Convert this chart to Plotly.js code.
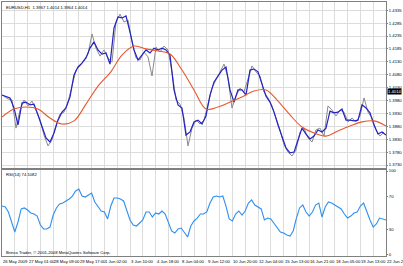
<!DOCTYPE html>
<html><head><meta charset="utf-8">
<script src="https://cdn.plot.ly/plotly-3.0.1.min.js"></script>
<style>html,body{margin:0;padding:0;background:#fff;overflow:hidden}#chart{width:403px;height:266px}</style>
</head><body><div id="chart"></div>
<script>
// EURUSD H1 close (grey line)
const closePrice = [
 1.3997,1.3986,1.3982,1.3873,1.3943,1.3982,1.3959,1.3978,1.3943,1.3904,
 1.3846,1.3804,1.3827,1.3885,1.3928,1.3935,1.3974,1.4040,1.4098,1.4114,
 1.4137,1.4160,1.4238,1.4183,1.4152,1.4176,1.4145,1.4129,1.4284,1.4315,
 1.4284,1.4292,1.4207,1.4145,1.4137,1.4168,1.4149,1.4075,1.4187,1.4168,
 1.4191,1.4176,1.4091,1.3982,1.3966,1.3912,1.3804,1.3873,1.3904,1.3889,
 1.3904,1.3963,1.4028,1.4060,1.4091,1.4121,1.4067,1.3951,1.3997,1.4028,
 1.4013,1.4067,1.4114,1.4091,1.4075,1.4013,1.3990,1.3959,1.3912,1.3866,
 1.3808,1.3780,1.3765,1.3788,1.3858,1.3873,1.3835,1.3819,1.3866,1.3873,
 1.3842,1.3959,1.3943,1.3920,1.3943,1.3935,1.3897,1.3912,1.3897,1.3920,
 1.3990,1.3935,1.3912,1.3866,1.3842,1.3858];
// fast moving average (blue line)
const fastMA = [
 1.4001,1.3994,1.3990,1.3951,1.3885,1.3970,1.3974,1.3963,1.3966,1.3924,
 1.3881,1.3835,1.3819,1.3854,1.3904,1.3935,1.3951,1.3994,1.4079,1.4110,
 1.4125,1.4145,1.4183,1.4207,1.4176,1.4160,1.4164,1.4121,1.4261,1.4304,
 1.4300,1.4308,1.4245,1.4176,1.4137,1.4156,1.4176,1.4164,1.4183,1.4176,
 1.4183,1.4176,1.4156,1.4021,1.3963,1.3951,1.3846,1.3858,1.3897,1.3904,
 1.3889,1.3920,1.4001,1.4052,1.4075,1.4098,1.4110,1.4021,1.3974,1.4021,
 1.4021,1.4001,1.4098,1.4102,1.4091,1.4044,1.3997,1.3974,1.3935,1.3885,
 1.3839,1.3796,1.3777,1.3780,1.3827,1.3873,1.3850,1.3831,1.3842,1.3866,
 1.3858,1.3873,1.3939,1.3932,1.3935,1.3947,1.3904,1.3904,1.3901,1.3904,
 1.3963,1.3951,1.3932,1.3885,1.3850,1.3858,1.3846];
// slow moving average (red line)
const slowMA = [
 1.3916,1.3947,1.3955,1.3947,1.3912,1.3889,1.3901,1.3966,1.4036,1.4087,
 1.4156,1.4191,1.4180,1.4172,1.4160,1.4098,1.4021,1.3947,1.3955,1.3974,
 1.3994,1.4017,1.4021,1.3978,1.3924,1.3877,1.3854,1.3842,1.3862,1.3881,
 1.3897,1.3901,1.3881];
// RSI(14)
const rsi = [
 58.3,57.1,51.2,39.3,27.4,39.3,54.8,56.0,53.6,50.0,
 48.8,46.4,35.7,31.0,31.0,33.3,47.6,56.0,60.7,61.9,
 64.3,66.7,70.2,76.2,78.6,70.2,69.0,71.4,73.8,63.1,
 57.1,52.4,51.2,42.9,58.3,67.9,67.9,66.7,64.3,53.6,
 41.7,35.7,34.5,38.1,41.7,51.2,51.2,45.2,50.0,48.8,
 52.4,48.8,39.3,28.6,26.2,31.0,32.1,26.2,21.4,34.5,
 40.5,44.0,48.8,48.8,51.2,61.9,69.0,70.2,69.0,70.2,
 58.3,42.9,40.5,48.8,52.4,47.6,52.4,61.9,65.5,59.5,
 57.1,54.8,41.7,44.0,42.9,38.1,32.1,27.4,26.2,23.8,
 22.6,28.6,44.0,56.0,59.5,51.2,46.4,51.2,59.5,61.9,
 45.2,57.1,63.1,61.9,59.5,57.1,54.8,48.8,44.0,46.4,
 50.0,51.2,58.3,61.9,51.2,41.7,33.3,36.9,44.0,42.9,
 41.7];
const priceTickValues = [1.3730,1.3780,1.3830,1.3880,1.3930,1.3980,1.4030,1.4080,1.4130,1.4180,1.4230,1.4280,1.4330];
const priceTickLabels = ["1.3730","1.3780","1.3830","1.3880","1.3930","1.3980","1.4030","1.4080","1.4130","1.4185","1.4235","1.4285","1.4335"];
const rsiTickValues = [0,30,70,100];
const rsiTickLabels = ["0","30","70","100"];
const timeLabels = ["26 May 2009","27 May 01:00","28 May 09:00","29 May 17:00","1 Jun 02:00","3 Jun 10:00","4 Jun 18:00","8 Jun 04:00","9 Jun 12:00","10 Jun 20:00","12 Jun 04:00","15 Jun 13:00","16 Jun 21:00","18 Jun 05:00","19 Jun 13:00","22 Jun 22:00"];
const headerText = "EURUSD,H1  1.3967 1.4014 1.3964 1.4014";
const rsiHeader = "RSI(14) 74.1082";
const footerText = "Brinco Trader, © 2001-2008 MetaQuotes Software Corp.";
const lastPrice = 1.4014;

const closeBars = closePrice.map((_, i) => 2.5 + i * 5);
const fastBars = fastMA.map((_, i) => i * 5);
const slowBars = slowMA.map((_, i) => i * 15);
const rsiBars = rsi.map((_, i) => i * 4);
const labelBars = timeLabels.map((_, i) => i * 32);
const gridBars = Array.from({length: 31}, (_, i) => i * 16);

const FONT = "Liberation Sans, Arial, sans-serif";
const SMALL = 4.2;
const traces = [
  {x: closeBars, y: closePrice, xaxis: 'x', yaxis: 'y', mode: 'lines', line: {color: '#8a8a8a', width: 1}, hoverinfo: 'skip'},
  {x: fastBars, y: fastMA, xaxis: 'x', yaxis: 'y', mode: 'lines', line: {color: '#2323c4', width: 1.2}, hoverinfo: 'skip'},
  {x: slowBars, y: slowMA, xaxis: 'x', yaxis: 'y', mode: 'lines', line: {color: '#e8582a', width: 1.1, shape: 'spline'}, hoverinfo: 'skip'},
  {x: rsiBars, y: rsi, xaxis: 'x2', yaxis: 'y2', mode: 'lines', line: {color: '#2e8ff0', width: 1.1}, hoverinfo: 'skip'}
];

const axisCommon = {
  range: [0, 480], tickvals: gridBars, showticklabels: false, ticks: '',
  showgrid: true, gridcolor: '#dcdcdc', gridwidth: 1, zeroline: false,
  showline: true, linecolor: '#808080', linewidth: 1, mirror: true
};
const annotations = [
  {xref: 'paper', yref: 'paper', x: 0, y: 1, xanchor: 'left', yanchor: 'middle', xshift: 2, yshift: -5, text: headerText, showarrow: false, font: {family: FONT, size: SMALL, color: '#000'}},
  {xref: 'paper', yref: 'paper', x: 0, y: 0.3228, xanchor: 'left', yanchor: 'middle', xshift: 2, text: rsiHeader, showarrow: false, font: {family: FONT, size: SMALL, color: '#000'}},
  {xref: 'paper', yref: 'paper', x: 0, y: 0.0157, xanchor: 'left', yanchor: 'middle', xshift: 2, text: footerText, showarrow: false, font: {family: FONT, size: SMALL, color: '#000'}},
  {xref: 'paper', yref: 'y', x: 1, y: lastPrice, xanchor: 'left', yanchor: 'middle', xshift: 1, text: lastPrice.toFixed(4), showarrow: false, bgcolor: '#000', borderpad: 0, font: {family: FONT, size: SMALL, color: '#fff'}}
];
timeLabels.forEach((t, i) => annotations.push({
  xref: 'x2', yref: 'paper', x: labelBars[i], y: 0, xanchor: 'left', yanchor: 'middle', yshift: -5, xshift: -1,
  text: t, showarrow: false, font: {family: FONT, size: SMALL, color: '#000'}
}));

const layout = {
  width: 403, height: 266,
  margin: {l: 2, r: 17, t: 2, b: 10},
  paper_bgcolor: '#fff', plot_bgcolor: '#fff',
  showlegend: false,
  xaxis: Object.assign({}, axisCommon, {anchor: 'y', domain: [0, 1]}),
  xaxis2: Object.assign({}, axisCommon, {anchor: 'y2', domain: [0, 1]}),
  yaxis: {
    domain: [0.3465, 1], range: [1.37184, 1.43618], side: 'right',
    tickvals: priceTickValues, ticktext: priceTickLabels, ticks: 'outside', ticklen: 1, tickcolor: '#808080',
    tickfont: {family: FONT, size: SMALL, color: '#000'},
    showgrid: true, gridcolor: '#dcdcdc', zeroline: false,
    showline: true, linecolor: '#808080', mirror: true
  },
  yaxis2: {
    domain: [0, 0.3386], range: [-1.2, 101.2], side: 'right',
    tickvals: rsiTickValues, ticktext: rsiTickLabels, ticks: 'outside', ticklen: 1, tickcolor: '#808080',
    tickfont: {family: FONT, size: SMALL, color: '#000'},
    showgrid: false, zeroline: false,
    showline: true, linecolor: '#808080', mirror: true
  },
  annotations: annotations
};
Plotly.newPlot('chart', traces, layout, {staticPlot: true, displayModeBar: false});
</script></body></html>
